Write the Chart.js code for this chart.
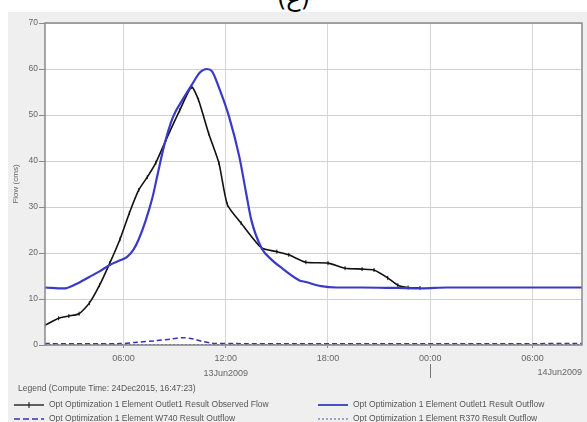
<!DOCTYPE html>
<html>
<head>
<meta charset="utf-8">
<script src="https://cdn.jsdelivr.net/npm/chart.js"></script>
<style>
  body { margin: 0; width: 587px; height: 422px; overflow: hidden; background: #fff; position: relative;
         font-family: "Liberation Sans", Arial, sans-serif; }
  #cap { position: absolute; left: 0; top: -14px; width: 587px; text-align: center; font-size: 24px;
         line-height: 24px; color: #000; font-family: "DejaVu Sans", sans-serif; }
  #panel { position: absolute; left: 8px; top: 12px; right: 0; bottom: 0; background: #efefef; }
  #chart { position: absolute; left: 0; top: 0; }
  .leg { position: absolute; font-size: 8.5px; color: #555; white-space: nowrap; line-height: 10px; }
  .leg svg { vertical-align: middle; margin-right: 5px; }
</style>
</head>
<body>
<div id="cap">(ع)</div>
<div id="panel"></div>
<canvas id="chart" width="587" height="422"></canvas>

<div class="leg" style="left:18px;top:383px">Legend (Compute Time: 24Dec2015, 16:47:23)</div>
<div class="leg" style="left:14px;top:399px">
  <svg width="30" height="8"><line x1="0" y1="4" x2="30" y2="4" stroke="#111" stroke-width="1.3"/><line x1="15" y1="1" x2="15" y2="7" stroke="#111" stroke-width="1"/></svg>Opt Optimization 1 Element Outlet1 Result Observed Flow</div>
<div class="leg" style="left:14px;top:413px">
  <svg width="30" height="8"><line x1="0" y1="4" x2="30" y2="4" stroke="#3535b0" stroke-width="1.5" stroke-dasharray="6,3"/></svg>Opt Optimization 1 Element W740 Result Outflow</div>
<div class="leg" style="left:318px;top:399px">
  <svg width="30" height="8"><line x1="0" y1="4" x2="30" y2="4" stroke="#3a3ac8" stroke-width="1.8"/></svg>Opt Optimization 1 Element Outlet1 Result Outflow</div>
<div class="leg" style="left:318px;top:413px">
  <svg width="30" height="8"><line x1="0" y1="4" x2="30" y2="4" stroke="#5050c0" stroke-width="1" stroke-dasharray="2,2"/></svg>Opt Optimization 1 Element R370 Result Outflow</div>

<script>
// hours counted from 00:00 13Jun2009
const obsHours = [1.4, 2.2, 2.8, 3.4, 4.0, 4.6, 5.2, 5.8, 6.35, 6.9, 7.4, 7.9, 8.5, 9.3, 10.0,
                  10.4, 11.0, 11.6, 12.1, 12.9, 14.1, 15.0, 15.7, 16.7, 18.0, 19.0, 20.0, 20.7,
                  21.5, 22.1, 22.7, 23.4];
const obsFlow = [4.3, 5.8, 6.3, 6.8, 9.1, 13.0, 17.8, 23.0, 28.7, 33.7, 36.5, 39.6, 44.6, 51.0, 56.1,
                 53.3, 46.0, 39.6, 30.5, 26.5, 21.1, 20.3, 19.6, 18.0, 17.8, 16.7, 16.5, 16.3,
                 14.6, 13.0, 12.5, 12.4];

const outHours = [1.4, 2.5, 3.2, 4.0, 4.6, 5.2, 5.8, 6.2, 6.6, 6.9, 7.3, 7.7, 8.0, 8.4, 8.9, 9.5,
                  10.0, 10.5, 10.9, 11.2, 11.6, 12.2, 12.8, 13.2, 13.5, 14.1, 14.7, 15.3, 16.3,
                  16.7, 17.6, 18.5, 20.0, 22.0, 23.5, 25.0, 28.0, 32.9];
const outFlow = [12.5, 12.3, 13.2, 14.8, 16.0, 17.4, 18.4, 19.1, 20.8, 23.0, 27.0, 32.0, 37.0, 43.5,
                 49.5, 53.5, 56.5, 59.3, 60.0, 59.5, 56.0, 49.6, 40.9, 33.0, 27.2, 21.1, 18.5,
                 16.7, 14.1, 13.7, 12.8, 12.5, 12.5, 12.4, 12.3, 12.5, 12.5, 12.5];

const w740Hours = [1.4, 5.8, 6.8, 7.8, 8.8, 9.5, 10.1, 10.6, 11.2, 12.5, 32.9];
const w740Flow = [0.3, 0.3, 0.6, 0.9, 1.3, 1.6, 1.3, 0.8, 0.4, 0.3, 0.3];

const r370Hours = [1.4, 32.9];
const r370Flow = [0.1, 0.1];

const xTicks = [6, 12, 18, 24, 30];
const xTickLabels = ["06:00", ["12:00", "13Jun2009"], "18:00", "00:00", "06:00"];
const dayBreak = 24;
const nextDayLabel = "14Jun2009";

function pts(xs, ys) { return xs.map((x, i) => ({ x: x, y: ys[i] })); }

const frame = {
  id: 'frame',
  beforeDraw(chart) {
    const c = chart.ctx, a = chart.chartArea;
    c.save();
    c.fillStyle = '#fff';
    c.fillRect(a.left, a.top, a.right - a.left, a.bottom - a.top);
    c.restore();
  },
  afterDraw(chart) {
    const c = chart.ctx, a = chart.chartArea, xs = chart.scales.x;
    c.save();
    c.strokeStyle = '#8a8a8a';
    c.lineWidth = 1.5;
    c.strokeRect(a.left, a.top, a.right - a.left, a.bottom - a.top);
    // day separator under midnight
    const xd = Math.round(xs.getPixelForValue(dayBreak)) + 0.5;
    c.strokeStyle = '#777';
    c.lineWidth = 1;
    c.beginPath(); c.moveTo(xd, a.bottom + 19); c.lineTo(xd, a.bottom + 33); c.stroke();
    c.fillStyle = '#666';
    c.font = '9px "Liberation Sans", Arial, sans-serif';
    c.textAlign = 'center';
    c.textBaseline = 'middle';
    c.fillText(nextDayLabel, xs.getPixelForValue(31.6), a.bottom + 28);
    c.restore();
  }
};

new Chart(document.getElementById('chart').getContext('2d'), {
  type: 'line',
  data: {
    datasets: [
      { data: pts(r370Hours, r370Flow), borderColor: '#5050c0', borderWidth: 1, borderDash: [2, 2],
        pointRadius: 0 },
      { data: pts(w740Hours, w740Flow), borderColor: '#3535b0', borderWidth: 1.5, borderDash: [5, 3],
        pointRadius: 0, tension: 0.3 },
      { data: pts(outHours, outFlow), borderColor: '#3a3ac8', borderWidth: 2.2, pointRadius: 0,
        cubicInterpolationMode: 'monotone' },
      { data: pts(obsHours, obsFlow), borderColor: '#111', borderWidth: 1.6, pointStyle: 'line',
        rotation: 90, pointRadius: 2, pointBorderColor: '#111', pointBorderWidth: 1, tension: 0.2 }
    ]
  },
  options: {
    responsive: false,
    animation: false,
    layout: { padding: { top: 23, right: 5, left: 0, bottom: 37 } },
    plugins: { legend: { display: false }, tooltip: { enabled: false } },
    scales: {
      x: {
        type: 'linear', min: 1.4, max: 32.9,
        afterBuildTicks(s) { s.ticks = xTicks.map(v => ({ value: v })); },
        afterFit(s) { s.height = 40; },
        ticks: {
          autoSkip: false, maxRotation: 0, color: '#666', padding: 3,
          font: { size: 9, family: '"Liberation Sans", Arial, sans-serif', lineHeight: 1.667 },
          callback(v) { const i = xTicks.indexOf(v); return i < 0 ? '' : xTickLabels[i]; }
        },
        grid: { color: '#d6d6d6', tickLength: 3, tickColor: '#888' },
        border: { display: false }
      },
      y: {
        min: 0, max: 70,
        afterFit(s) { s.width = 45; },
        ticks: { stepSize: 10, color: '#666', padding: 1,
                 font: { size: 8.5, family: '"Liberation Sans", Arial, sans-serif' } },
        grid: { color: '#d0d0d0', tickLength: 6, tickColor: '#888' },
        border: { display: false },
        title: { display: true, text: 'Flow (cms)', color: '#666', padding: { top: 11, bottom: 0 },
                 font: { size: 8, family: '"Liberation Sans", Arial, sans-serif' } }
      }
    }
  },
  plugins: [frame]
});
</script>
</body>
</html>
